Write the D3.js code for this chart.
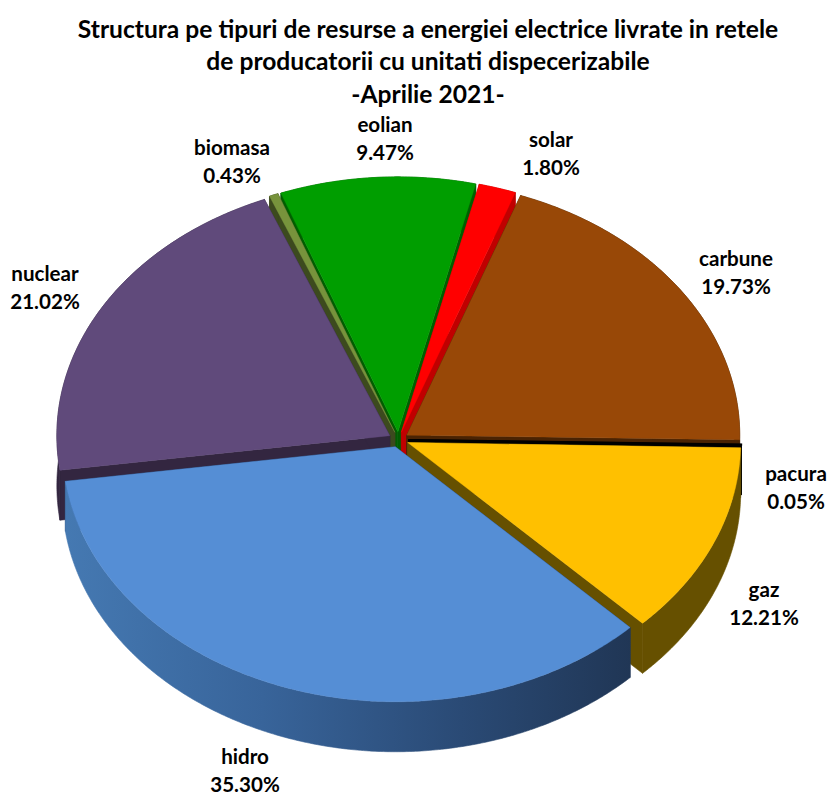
<!DOCTYPE html>
<html><head><meta charset="utf-8">
<script src="https://cdn.jsdelivr.net/npm/d3@7/dist/d3.min.js"></script>
<style>html,body{margin:0;padding:0;background:#fff}svg{display:block}text{font-family:Lato,"Open Sans",sans-serif;font-weight:700;fill:#000}</style>
</head><body><svg id="c" width="829" height="796"></svg>
<script>
const categories=["carbune","pacura","gaz","hidro","nuclear","biomasa","eolian","solar"];
const values=[19.73,0.05,12.21,35.30,21.02,0.43,9.47,1.80];
const titleLines=["Structura pe tipuri de resurse a energiei electrice livrate in retele","de producatorii cu unitati dispecerizabile","-Aprilie 2021-"];
const topColors=["#984807","#000000","#ffc000","#558ed5","#604a7b","#77933c","#009e00","#ff0000"];
const wallColors=["#4a2303","#000000","#665000","url(#hidroWall)","#332640","#3c4a1e","#005f00","#c00000"];
const labelX=[736,796,764,245,45,232,385,551];
const labelY=[259,474,590,757,274,148,125,140];

const cx=398.5,cy=439.5,rx=333,ry=255,depth=50,explode=0.03;
const startDeg=20.0;
const rad=d=>d*Math.PI/180;
const svg=d3.select("#c");
const defs=svg.append("defs");
const g=defs.append("linearGradient").attr("id","hidroWall").attr("gradientUnits","userSpaceOnUse")
  .attr("x1",64).attr("x2",632).attr("y1",0).attr("y2",0);
[[0,"#4579b2"],[0.35,"#38649a"],[0.7,"#2a4a75"],[1,"#203655"]].forEach(s=>g.append("stop").attr("offset",s[0]).attr("stop-color",s[1]));

const arcs=d3.pie().sort(null).startAngle(rad(startDeg)).endAngle(rad(startDeg+360))(values);
const line=d3.line().curve(d3.curveLinear);
const closed=p=>line(p)+"Z";

const slices=arcs.map((a,i)=>{
  const mid=(a.startAngle+a.endAngle)/2;
  const ox=cx+explode*rx*Math.sin(mid), oy=cy-explode*ry*Math.cos(mid);
  const pt=t=>[ox+rx*Math.sin(t),oy-ry*Math.cos(t)];
  const n=Math.max(2,Math.ceil((a.endAngle-a.startAngle)/rad(0.5)));
  const rim=d3.range(n+1).map(k=>pt(a.startAngle+(a.endAngle-a.startAngle)*k/n));
  return {i,mid,apex:[ox,oy],rim,a};
});
const down=p=>[p[0],p[1]+depth];
slices.slice().sort((p,q)=>Math.cos(q.mid)-Math.cos(p.mid)).forEach(s=>{
  const gr=svg.append("g").attr("class","slice");
  const wc=wallColors[s.i], last=s.rim[s.rim.length-1], first=s.rim[0];
  const poly=(pts,fill)=>gr.append("path").attr("d",closed(pts)).attr("fill",fill).attr("stroke",fill).attr("stroke-width",0.6);
  const rwFill=s.i===3?"#22385c":wc;
  poly([s.apex,first,down(first),down(s.apex)],rwFill);
  poly([s.apex,last,down(last),down(s.apex)],rwFill);
  poly(s.rim.concat(s.rim.slice().reverse().map(down)),wc);
  gr.append("path").attr("d",closed([s.apex].concat(s.rim))).attr("fill",topColors[s.i])
    .attr("stroke",topColors[s.i]).attr("stroke-width",s.i===1?1.5:0.4);
});

const title=svg.append("g").attr("text-anchor","middle").style("font-size","24.6px");
titleLines.forEach((t,i)=>title.append("text").attr("x",428).attr("y",[38,70,103][i]).text(t));
const lab=svg.append("g").attr("text-anchor","middle").style("font-size","20.6px");
categories.forEach((c,i)=>{
  lab.append("text").attr("x",labelX[i]).attr("y",labelY[i]+7).text(c);
  lab.append("text").attr("x",labelX[i]).attr("y",labelY[i]+34.5).text(values[i].toFixed(2)+"%");
});
</script></body></html>
